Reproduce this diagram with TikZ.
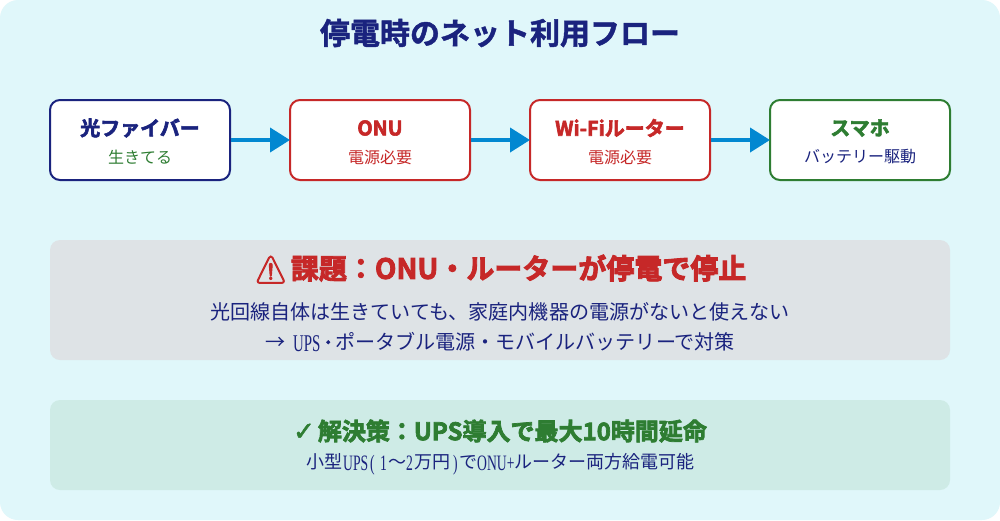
\documentclass[tikz,border=0pt]{standalone}
\usepackage{fontspec}
\setmainfont{Noto Sans CJK JP}
\newfontfamily\jpb[FakeBold=3]{Noto Sans CJK JP Bold}
\newfontfamily\jpm[FakeBold=1.5]{Noto Sans CJK JP Bold}
\newfontfamily\nar[FakeStretch=0.62]{Liberation Serif}
\newfontfamily\djv[FakeBold=2]{DejaVu Sans}
\newfontfamily\emj[FakeBold=3.5]{Noto Emoji}
\usetikzlibrary{arrows.meta}
\definecolor{bgc}{HTML}{E0F7FA}
\definecolor{navy}{HTML}{1A237E}
\definecolor{redc}{HTML}{C62828}
\definecolor{grn}{HTML}{2E7D32}
\definecolor{arrowc}{HTML}{0288D1}
\definecolor{greyp}{HTML}{DEE3E6}
\definecolor{grnp}{HTML}{CEEBE6}
\tikzset{
  flowbox/.style={draw=#1,line width=2pt,fill=white,rounded corners=10pt,minimum width=180pt,minimum height=80pt,inner sep=0pt},
  panel/.style={fill=#1,rounded corners=10pt,inner sep=0pt},
  flowarrow/.style={draw=arrowc,line width=4pt,-{Triangle[length=20pt,width=24pt]},shorten >=-1pt},
  txt/.style={inner sep=0pt,text=#1,anchor=center},
}
\newcommand{\fs}[1]{\fontsize{#1pt}{#1pt}\selectfont}
\newcommand{\low}[1]{\raisebox{-1.5pt}{#1}}
\newcommand{\seg}[2]{\makebox[#1pt][l]{\nar\fs{22}\low{#2}}}
\begin{document}
\begin{tikzpicture}[x=1pt,y=-1pt]
\useasboundingbox (0,0) rectangle (1000,520);
\fill[white] (0,0) rectangle (1000,520);
\fill[bgc,rounded corners=18pt] (0,0) rectangle (1000,520);
\node[txt=navy] (title) at (500,33) {\fs{30}\jpm 停電時のネット利用フロー};
\node[flowbox=navy] (b1) at (140,140) {};
\node[flowbox=redc] (b2) at (380,140) {};
\node[flowbox=redc] (b3) at (620,140) {};
\node[flowbox=grn] (b4) at (860,140) {};
\draw[flowarrow] (b1.east) -- (b2.west);
\draw[flowarrow] (b2.east) -- (b3.west);
\draw[flowarrow] (b3.east) -- (b4.west);
\node[txt=navy] (t1) at (140,128) {\fs{20}\jpb 光ファイバー};
\node[txt=grn] (s1) at (140,157) {\fs{16}生きてる};
\node[txt=redc] (t2) at (380,128) {\fs{20}\jpb ONU};
\node[txt=redc] (s2) at (380,157) {\fs{16}電源必要};
\node[txt=redc] (t3) at (620,128) {\fs{20}\jpb Wi-Fiルーター};
\node[txt=redc] (s3) at (620,157) {\fs{16}電源必要};
\node[txt=grn] (t4) at (860,128) {\fs{20}\jpb スマホ};
\node[txt=navy] (s4) at (860,157) {\fs{16}バッテリー駆動};
\node[panel=greyp,minimum width=900pt,minimum height=120pt] (p1) at (500,300) {};
\node[panel=grnp,minimum width=900pt,minimum height=90pt] (p2) at (500,445) {};
\node[txt=redc] (h1) at (500,269) {\fs{28}\jpb{\emj\fs{27}⚠}\kern3pt 課題：ONU・ルーターが停電で停止};
\node[txt=navy] (l1) at (500,312) {\fs{20.05}光回線自体は生きていても、家庭内機器の電源がないと使えない};
\node[txt=navy] (l2) at (500,342) {\fs{20.05}→\kern8pt{\nar\fs{24}\low{UPS}}\kern2pt{\jpm\fs{20}·}\kern1pt ポータブル電源・モバイルバッテリーで対策};
\node[txt=grn] (h2) at (500,431) {\fs{24}\jpb{\djv\fs{26}✓}\kern3pt 解決策：UPS導入で最大10時間延命};
\node[txt=navy,anchor=west] (l3) at (306,464) {\fs{18}小型\kern1pt\seg{27}{UPS}\seg{10}{(}\seg{8}{1}～\seg{8}{2}万円\kern3pt\seg{6}{)}で\seg{37}{ONU+}ルーター両方給電可能};
\end{tikzpicture}
\end{document}
